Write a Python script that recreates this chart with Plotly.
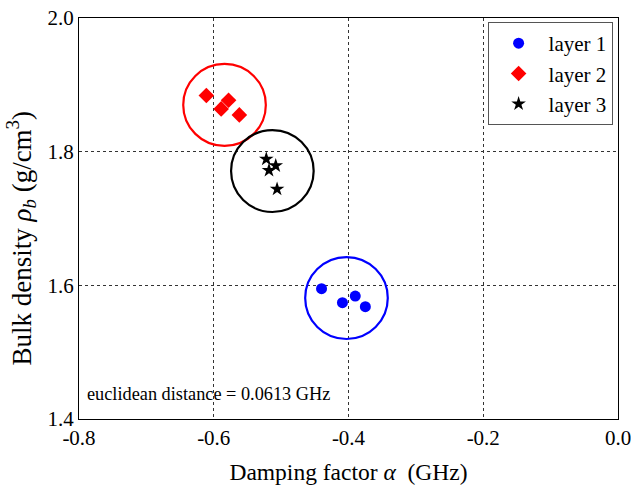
import plotly.graph_objects as go

# ---- data ----
layer_names = ["layer 1", "layer 2", "layer 3"]
layer1_x = [-0.440, -0.409, -0.390, -0.375]
layer1_y = [1.595, 1.574, 1.584, 1.568]
layer2_x = [-0.611, -0.578, -0.589, -0.562]
layer2_y = [1.884, 1.877, 1.864, 1.855]
layer3_x = [-0.522, -0.508, -0.518, -0.506]
layer3_y = [1.789, 1.779, 1.772, 1.744]
center_x = [-0.403, -0.584, -0.513]
center_y = [1.581, 1.870, 1.771]
radius = 0.0613
x_ticks = [-0.8, -0.6, -0.4, -0.2, 0.0]
y_ticks = [1.4, 1.6, 1.8, 2.0]

colors = ["#0000ff", "#ff0000", "#000000"]
symbols = ["circle", "diamond", "star"]
sizes = [11, 12, 11]
xs = [layer1_x, layer2_x, layer3_x]
ys = [layer1_y, layer2_y, layer3_y]

FONT = "Liberation Serif, Times New Roman, serif"

fig = go.Figure()
for i in range(3):
    fig.add_trace(go.Scatter(
        x=xs[i], y=ys[i], mode="markers", name=layer_names[i],
        marker=dict(color=colors[i], symbol=symbols[i], size=sizes[i], line=dict(width=0)),
    ))
    fig.add_shape(type="circle", xref="x", yref="y",
                  x0=center_x[i] - radius, x1=center_x[i] + radius,
                  y0=center_y[i] - radius, y1=center_y[i] + radius,
                  line=dict(color=colors[i], width=2.2), layer="above")

fig.add_annotation(text="euclidean distance = 0.0613 GHz", xref="paper", yref="y",
                   x=0, y=1.438, xanchor="left", yanchor="middle", xshift=6,
                   showarrow=False, font=dict(size=18.3, color="black", family=FONT))

# y-axis title placed as rotated annotation
fig.add_annotation(text="Bulk density <i>ρ<sub>b</sub></i> (g/cm<sup>3</sup>)", xref="paper", yref="paper",
                   x=0, y=0.45, xanchor="right", yanchor="middle", xshift=-37, textangle=-90,
                   showarrow=False, font=dict(size=27, color="black", family=FONT))

axis_common = dict(showline=True, linecolor="black", linewidth=1, mirror=True,
                   showgrid=True, gridcolor="#333333", gridwidth=1, griddash="dot",
                   zeroline=False, ticks="", automargin=False, ticklabeloverflow="allow",
                   tickfont=dict(size=21, color="black", family=FONT))

fig.update_xaxes(range=[-0.8, 0.0], tickvals=x_ticks, ticktext=["-0.8", "-0.6", "-0.4", "-0.2", "0.0"],
                 title=dict(text="Damping factor <i>α</i>  (GHz)", font=dict(size=23.5, color="black", family=FONT), standoff=14),
                 **axis_common)
fig.update_yaxes(range=[1.4, 2.0], tickvals=y_ticks, ticktext=["1.4", "1.6", "1.8", "2.0"],
                 **axis_common)

fig.update_layout(
    width=631, height=486,
    margin=dict(l=79, r=13, t=18, b=67),
    paper_bgcolor="white", plot_bgcolor="white",
    font=dict(family=FONT, color="black"),
    legend=dict(x=0.99, y=0.99, xanchor="right", yanchor="top",
                bgcolor="white", bordercolor="#555555", borderwidth=1, itemwidth=50,
                font=dict(size=21, color="black", family=FONT)),
)

fig.write_html("out.html", config={"displayModeBar": False},
               post_script="document.body.style.margin='0';")
